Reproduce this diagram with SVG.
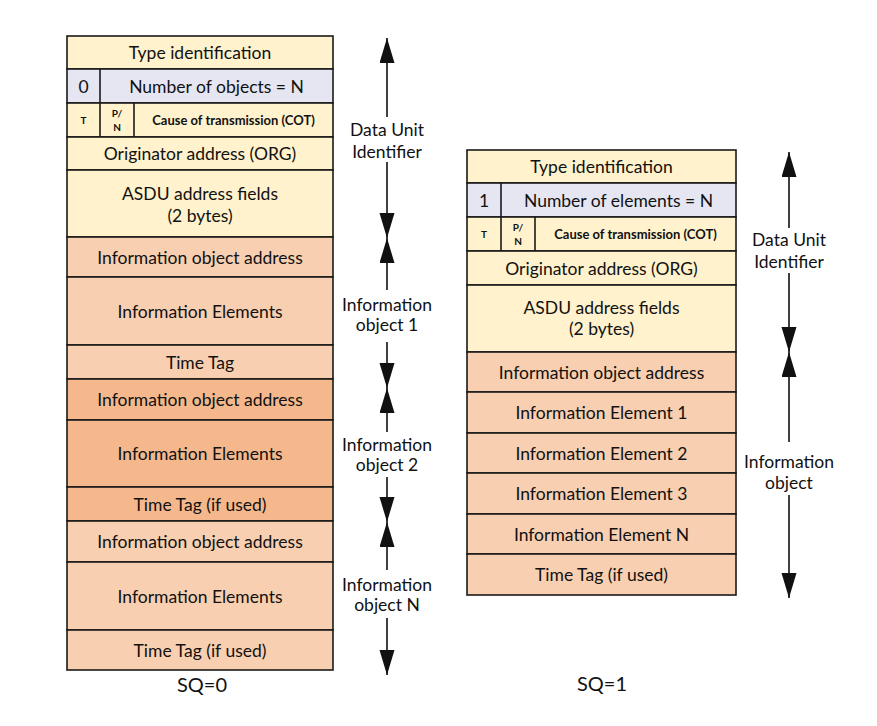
<svg xmlns="http://www.w3.org/2000/svg" width="877" height="726" viewBox="0 0 877 726">
<style>
  rect, line.d { stroke:#1a1a1a; stroke-width:1.6; }
  .y { fill:#FFF2CC; }
  .v { fill:#E6E6F2; }
  .o { fill:#F8CFB0; }
  .od { fill:#F5B88C; }
  text { font-family:Lato, "Liberation Sans", sans-serif; font-size:17.5px; fill:#111; text-anchor:middle; }
  text.s { font-size:13px; font-weight:bold; }
  text.xs { font-size:10px; font-weight:bold; }
  text.sq { font-size:20px; }
  .arr { stroke:#111; stroke-width:1.6; fill:none; marker-end:url(#ah); }
</style>
<defs>
  <marker id="ah" markerUnits="userSpaceOnUse" markerWidth="26" markerHeight="16" refX="25" refY="7.5" orient="auto">
    <path d="M0,0 L25,7.5 L0,15 z" fill="#111"/>
  </marker>
</defs>
<rect width="877" height="726" fill="#fff" style="stroke:none"/>

<!-- SQ=0 table -->
<g id="l-type"><rect class="y" x="67" y="36" width="266" height="33"/><text x="200" y="59">Type identification</text></g>
<g id="l-num"><rect class="v" x="67" y="69" width="266" height="34"/><line class="d" x1="100" y1="69" x2="100" y2="103"/><text x="83.5" y="92.5">0</text><text x="216.5" y="92.5">Number of objects = N</text></g>
<g id="l-cot"><rect class="y" x="67" y="103" width="266" height="34"/><line class="d" x1="100" y1="103" x2="100" y2="137"/><line class="d" x1="134" y1="103" x2="134" y2="137"/><text class="xs" x="83.5" y="124">T</text><text class="xs" x="117" y="116.5">P/</text><text class="xs" x="117" y="130.5">N</text><text class="s" x="233.5" y="124.5">Cause of transmission (COT)</text></g>
<g id="l-org"><rect class="y" x="67" y="137" width="266" height="33"/><text x="200" y="160">Originator address (ORG)</text></g>
<g id="l-asdu"><rect class="y" x="67" y="170" width="266" height="67"/><text x="200" y="199.5">ASDU address fields</text><text x="200" y="221.5">(2 bytes)</text></g>
<g id="l-ioa1"><rect class="o" x="67" y="237" width="266" height="40"/><text x="200" y="263.5">Information object address</text></g>
<g id="l-ie1"><rect class="o" x="67" y="277" width="266" height="68"/><text x="200" y="317.5">Information Elements</text></g>
<g id="l-tt1"><rect class="o" x="67" y="345" width="266" height="34"/><text x="200" y="368.5">Time Tag</text></g>
<g id="l-ioa2"><rect class="od" x="67" y="379" width="266" height="41"/><text x="200" y="406">Information object address</text></g>
<g id="l-ie2"><rect class="od" x="67" y="420" width="266" height="67"/><text x="200" y="460">Information Elements</text></g>
<g id="l-tt2"><rect class="od" x="67" y="487" width="266" height="34"/><text x="200" y="510.5">Time Tag (if used)</text></g>
<g id="l-ioan"><rect class="o" x="67" y="521" width="266" height="41"/><text x="200" y="548">Information object address</text></g>
<g id="l-ien"><rect class="o" x="67" y="562" width="266" height="68"/><text x="200" y="602.5">Information Elements</text></g>
<g id="l-ttn"><rect class="o" x="67" y="630" width="266" height="40"/><text x="200" y="656.5">Time Tag (if used)</text></g>
<g id="l-sq"><text class="sq" x="202" y="692">SQ=0</text></g>

<!-- SQ=1 table -->
<g id="r-type"><rect class="y" x="467" y="150" width="269" height="33"/><text x="601.5" y="173">Type identification</text></g>
<g id="r-num"><rect class="v" x="467" y="183" width="269" height="34"/><line class="d" x1="501" y1="183" x2="501" y2="217"/><text x="484" y="206.5">1</text><text x="618.5" y="206.5">Number of elements = N</text></g>
<g id="r-cot"><rect class="y" x="467" y="217" width="269" height="34"/><line class="d" x1="501" y1="217" x2="501" y2="251"/><line class="d" x1="535" y1="217" x2="535" y2="251"/><text class="xs" x="484" y="238">T</text><text class="xs" x="518" y="230.5">P/</text><text class="xs" x="518" y="244.5">N</text><text class="s" x="635.5" y="238.5">Cause of transmission (COT)</text></g>
<g id="r-org"><rect class="y" x="467" y="251" width="269" height="34"/><text x="601.5" y="274.5">Originator address (ORG)</text></g>
<g id="r-asdu"><rect class="y" x="467" y="285" width="269" height="67"/><text x="601.5" y="313.5">ASDU address fields</text><text x="601.5" y="334.5">(2 bytes)</text></g>
<g id="r-ioa"><rect class="o" x="467" y="352" width="269" height="40"/><text x="601.5" y="378.5">Information object address</text></g>
<g id="r-ie1"><rect class="o" x="467" y="392" width="269" height="41"/><text x="601.5" y="419">Information Element 1</text></g>
<g id="r-ie2"><rect class="o" x="467" y="433" width="269" height="40"/><text x="601.5" y="459.5">Information Element 2</text></g>
<g id="r-ie3"><rect class="o" x="467" y="473" width="269" height="41"/><text x="601.5" y="500">Information Element 3</text></g>
<g id="r-ien"><rect class="o" x="467" y="514" width="269" height="40"/><text x="601.5" y="540.5">Information Element N</text></g>
<g id="r-tt"><rect class="o" x="467" y="554" width="269" height="41"/><text x="601.5" y="581">Time Tag (if used)</text></g>
<g id="r-sq"><text class="sq" x="602" y="691">SQ=1</text></g>

<!-- connectors -->
<g id="connectors">
  <line class="arr" x1="387" y1="117" x2="387" y2="38"/>
  <line class="arr" x1="387" y1="162" x2="387" y2="238"/>
  <line class="arr" x1="387" y1="290" x2="387" y2="238"/>
  <line class="arr" x1="387" y1="342" x2="387" y2="388"/>
  <line class="arr" x1="387" y1="432" x2="387" y2="388"/>
  <line class="arr" x1="387" y1="477" x2="387" y2="522"/>
  <line class="arr" x1="387" y1="570" x2="387" y2="522"/>
  <line class="arr" x1="387" y1="618" x2="387" y2="675"/>
  <line class="arr" x1="789" y1="228" x2="789" y2="152"/>
  <line class="arr" x1="789" y1="273" x2="789" y2="352"/>
  <line class="arr" x1="789" y1="442" x2="789" y2="352"/>
  <line class="arr" x1="789" y1="495" x2="789" y2="598"/>
</g>
<g id="labels">
  <text x="387" y="136">Data Unit</text><text x="387" y="158">Identifier</text>
  <text x="387" y="311">Information</text><text x="387" y="331">object 1</text>
  <text x="387" y="451">Information</text><text x="387" y="471">object 2</text>
  <text x="387" y="591">Information</text><text x="387" y="611">object N</text>
  <text x="789" y="246">Data Unit</text><text x="789" y="268">Identifier</text>
  <text x="789" y="468">Information</text><text x="789" y="489">object</text>
</g>
</svg>
